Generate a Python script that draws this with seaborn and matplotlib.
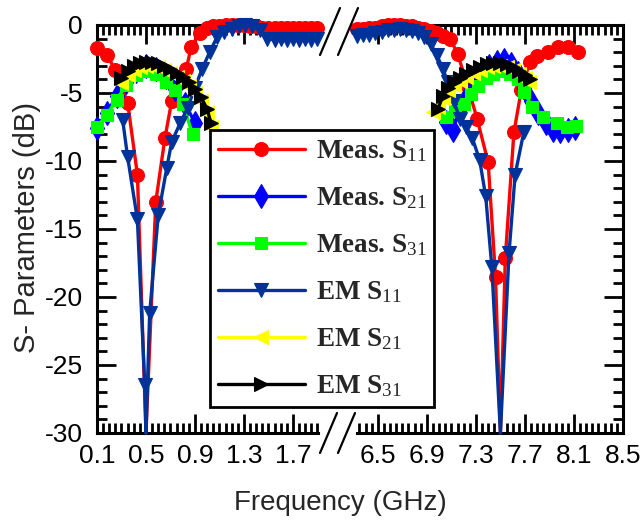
import numpy as np
import pandas as pd
import matplotlib
matplotlib.use("Agg")
import matplotlib.pyplot as plt
from matplotlib.lines import Line2D
from matplotlib.ticker import MultipleLocator
import seaborn as sns

# ---------------- data (frequency in GHz, S-parameters in dB) ----------------
meas_s11_left_f = [0.10, 0.18, 0.25, 0.35, 0.43, 0.50, 0.58, 0.655, 0.71, 0.83, 0.87, 0.94, 1.00, 1.05,
                   1.10, 1.15, 1.20, 1.25, 1.30, 1.35, 1.40, 1.45, 1.50, 1.55, 1.60, 1.65, 1.70, 1.75,
                   1.80, 1.85, 1.90]
meas_s11_left_db = [-1.7, -2.2, -3.3, -5.7, -11.0, -30.0, -13.0, -8.3, -5.6, -3.2, -1.6, -0.6, -0.25, -0.1,
                    -0.05, 0.0, 0.0, 0.0, 0.0, -0.05, -0.1, -0.2, -0.2, -0.25, -0.2, -0.25, -0.2, -0.25,
                    -0.2, -0.25, -0.2]
meas_s11_right_f = [6.33, 6.38, 6.43, 6.48, 6.53, 6.58, 6.63, 6.68, 6.73, 6.78, 6.83, 6.88, 6.93, 6.98,
                    7.03, 7.09, 7.15, 7.23, 7.31, 7.40, 7.46, 7.50, 7.54, 7.61, 7.67, 7.74, 7.80, 7.89,
                    7.97, 8.05, 8.13]
meas_s11_right_db = [-0.3, -0.3, -0.25, -0.2, -0.1, 0.0, 0.0, 0.0, -0.05, -0.1, -0.2, -0.3, -0.45, -0.6,
                     -0.8, -1.0, -2.1, -4.4, -6.9, -10.1, -18.5, -30.0, -17.1, -7.9, -4.8, -2.7, -2.3, -2.0,
                     -1.6, -1.6, -2.0]

meas_s21_left_f = [0.10, 0.18, 0.26, 0.34, 0.42, 0.50, 0.58, 0.66, 0.74, 0.82, 0.90]
meas_s21_left_db = [-7.6, -6.5, -5.2, -4.2, -3.4, -3.0, -3.2, -3.8, -4.7, -5.8, -7.2]
meas_s21_right_f = [7.06, 7.11, 7.17, 7.23, 7.29, 7.35, 7.41, 7.47, 7.53, 7.59, 7.64, 7.69, 7.75, 7.81,
                    7.87, 7.93, 7.99, 8.05, 8.11]
meas_s21_right_db = [-7.1, -7.7, -6.2, -5.2, -4.3, -3.6, -3.0, -2.7, -2.6, -2.9, -3.5, -4.6, -5.6, -6.5,
                     -7.2, -7.7, -7.8, -7.7, -7.6]

meas_s31_left_f = [0.10, 0.18, 0.26, 0.34, 0.42, 0.50, 0.58, 0.66, 0.74, 0.80, 0.88]
meas_s31_left_db = [-7.5, -6.6, -5.5, -4.4, -3.7, -3.4, -3.6, -4.2, -4.8, -5.8, -8.0]
meas_s31_right_f = [7.06, 7.13, 7.20, 7.26, 7.32, 7.38, 7.44, 7.51, 7.58, 7.64, 7.69, 7.76, 7.85, 7.96,
                    8.04, 8.12]
meas_s31_right_db = [-6.8, -6.3, -5.8, -5.1, -4.5, -3.9, -3.6, -3.4, -3.6, -4.0, -4.9, -6.0, -6.8, -7.2,
                     -7.5, -7.4]

em_s11_left_f = [0.31, 0.35, 0.43, 0.49, 0.50, 0.53, 0.60, 0.67, 0.71, 0.78, 0.84, 0.90, 0.96, 1.02,
                 1.08, 1.14, 1.20, 1.26, 1.31, 1.37, 1.43, 1.49, 1.55, 1.60, 1.65, 1.70, 1.75, 1.80,
                 1.85, 1.90]
em_s11_left_db = [-7.0, -9.7, -14.3, -26.5, -30.0, -21.2, -14.0, -10.5, -8.6, -7.2, -6.1, -4.6, -3.2, -2.0,
                  -0.9, -0.5, -0.3, -0.1, 0.0, -0.1, -0.4, -1.0, -1.1, -1.0, -1.1, -1.0, -1.1, -1.0,
                  -1.1, -1.0]
em_s11_right_f = [6.33, 6.38, 6.43, 6.48, 6.53, 6.58, 6.63, 6.68, 6.73, 6.78, 6.83, 6.88, 6.93, 6.98,
                  7.03, 7.07, 7.12, 7.17, 7.22, 7.27, 7.33, 7.38, 7.43, 7.50, 7.57, 7.62, 7.69]
em_s11_right_db = [-0.8, -0.75, -0.7, -0.6, -0.5, -0.4, -0.35, -0.3, -0.35, -0.45, -0.6, -0.9, -1.4, -2.2,
                   -3.2, -4.2, -5.6, -6.9, -7.5, -8.3, -9.9, -12.6, -17.8, -30.0, -16.8, -11.0, -7.9]

em_s21_left_f = [0.30, 0.35, 0.40, 0.45, 0.50, 0.55, 0.60, 0.65, 0.70, 0.75, 0.80, 0.85, 0.90, 0.95,
                 1.00, 1.03]
em_s21_left_db = [-4.3, -3.7, -3.3, -3.1, -3.0, -3.0, -3.1, -3.3, -3.5, -3.8, -4.1, -4.5, -5.0, -5.6,
                  -6.5, -7.5]
em_s21_right_f = [6.95, 6.99, 7.03, 7.07, 7.12, 7.17, 7.22, 7.28, 7.33, 7.39, 7.44, 7.50, 7.55, 7.60,
                  7.65, 7.70, 7.73]
em_s21_right_db = [-6.4, -6.0, -5.4, -4.8, -4.4, -4.1, -3.8, -3.5, -3.3, -3.1, -3.0, -3.0, -3.1, -3.3,
                   -3.6, -3.9, -4.2]

em_s31_left_f = [0.30, 0.35, 0.40, 0.45, 0.50, 0.55, 0.60, 0.65, 0.70, 0.75, 0.80, 0.85, 0.90, 0.95,
                 1.00, 1.03]
em_s31_left_db = [-3.9, -3.4, -3.0, -2.8, -2.7, -2.7, -2.8, -3.0, -3.2, -3.5, -3.8, -4.2, -4.7, -5.3,
                  -6.2, -7.2]
em_s31_right_f = [6.99, 7.03, 7.07, 7.12, 7.17, 7.22, 7.28, 7.33, 7.39, 7.44, 7.50, 7.55, 7.60, 7.65,
                  7.70, 7.74]
em_s31_right_db = [-6.2, -5.2, -4.6, -4.2, -3.9, -3.6, -3.3, -3.1, -2.9, -2.8, -2.8, -2.9, -3.1, -3.4,
                   -3.7, -4.0]

series_labels = ["Meas. S$_{11}$", "Meas. S$_{21}$", "Meas. S$_{31}$",
                 "EM S$_{11}$", "EM S$_{21}$", "EM S$_{31}$"]
left_x_ticks = [0.1, 0.5, 0.9, 1.3, 1.7]
right_x_ticks = [6.5, 6.9, 7.3, 7.7, 8.1, 8.5]
y_ticks = [-30, -25, -20, -15, -10, -5, 0]

# ---------------- styling ----------------
sns.set_style("ticks")
plt.rcParams['font.family'] = ['Liberation Sans', 'DejaVu Sans']
plt.rcParams['axes.unicode_minus'] = False
plt.rcParams['mathtext.fontset'] = 'custom'
plt.rcParams['mathtext.rm'] = 'Liberation Serif'
plt.rcParams['mathtext.it'] = 'Liberation Serif:italic'
plt.rcParams['mathtext.bf'] = 'Liberation Serif:bold'

W, H = 644, 521
fig = plt.figure(figsize=(W / 100, H / 100), dpi=100)


def rect(x0, y0, x1, y1):
    return [x0 / W, 1 - y1 / H, (x1 - x0) / W, (y1 - y0) / H]


axL = fig.add_axes(rect(97, 25, 318, 433))
axR = fig.add_axes(rect(357, 25, 623, 433))

styles = [
    dict(color="#FF0000", marker="o", markersize=10),
    dict(color="#0000FF", marker="d", markersize=12),
    dict(color="#00FF00", marker="s", markersize=8.5),
    dict(color="#003399", marker="v", markersize=10.5),
    dict(color="#FFFF00", marker="<", markersize=10.5),
    dict(color="#000000", marker=">", markersize=10.5),
]
left_data = [(meas_s11_left_f, meas_s11_left_db), (meas_s21_left_f, meas_s21_left_db),
             (meas_s31_left_f, meas_s31_left_db), (em_s11_left_f, em_s11_left_db),
             (em_s21_left_f, em_s21_left_db), (em_s31_left_f, em_s31_left_db)]
right_data = [(meas_s11_right_f, meas_s11_right_db), (meas_s21_right_f, meas_s21_right_db),
              (meas_s31_right_f, meas_s31_right_db), (em_s11_right_f, em_s11_right_db),
              (em_s21_right_f, em_s21_right_db), (em_s31_right_f, em_s31_right_db)]
draw_order = [0, 1, 2, 4, 5, 3]

handles = [None] * 6
for i in draw_order:
    st = styles[i]
    for ax, (fx, fy) in ((axL, left_data[i]), (axR, right_data[i])):
        df = pd.DataFrame({"f": fx, "db": fy})
        # the resonance minimum sits on the axis floor: no marker drawn there
        shown = [k for k, v in enumerate(fy) if v > -30]
        sns.lineplot(data=df, x="f", y="db", ax=ax, sort=False, estimator=None,
                     color=st["color"], marker=st["marker"], markersize=st["markersize"],
                     markeredgecolor=st["color"], markeredgewidth=0.8, linewidth=2.4,
                     markevery=shown, clip_on=False, zorder=3 + i * 0.1, legend=False)
        if ax is axL:
            handles[i] = ax.lines[-1]

for ax in (axL, axR):
    ax.set_ylim(-30, 0)
    ax.set_yticks(y_ticks)
    ax.yaxis.set_minor_locator(MultipleLocator(1))
    ax.xaxis.set_minor_locator(MultipleLocator(0.05))
    ax.set_xlabel("")
    ax.set_ylabel("")
    for sp in ax.spines.values():
        sp.set_linewidth(2.2)
        sp.set_color("black")
    ax.tick_params(which="both", direction="in", top=True, bottom=True, width=2, colors="black")
    ax.tick_params(which="major", length=14, labelsize=19)
    ax.tick_params(which="minor", length=7)
    ax.tick_params(axis="x", pad=8)
    ax.tick_params(axis="y", pad=10)

axL.set_xlim(0.1, 1.905)
axL.set_xticks(left_x_ticks)
axL.set_xticklabels([f"{v:.1f}" for v in left_x_ticks])
axL.set_yticklabels([str(v) for v in y_ticks])
axL.spines["right"].set_visible(False)
axL.tick_params(which="both", left=True, right=False)

axR.set_xlim(6.33, 8.5)
axR.set_xticks(right_x_ticks)
axR.set_xticklabels([f"{v:.1f}" for v in right_x_ticks])
axR.spines["left"].set_visible(False)
axR.tick_params(which="both", left=False, right=True, labelleft=False, labelright=False)

fig.text(27 / W, 1 - 228 / H, "S- Parameters (dB)", rotation=90, ha="center", va="center", fontsize=21)
fig.text(340 / W, 1 - 503 / H, "Frequency (GHz)", ha="center", va="center", fontsize=20)

# axis-break marks
for (x0, y0, x1, y1) in [(320, 55, 340, 8), (338, 55, 358, 8), (320, 453, 337, 413), (338, 453, 355, 413)]:
    fig.add_artist(Line2D([x0 / W, x1 / W], [1 - y0 / H, 1 - y1 / H], transform=fig.transFigure,
                          color="black", linewidth=1.6))

leg = fig.legend(handles, series_labels, loc="upper left", bbox_to_anchor=(210 / W, 1 - 130 / H),
                 bbox_transform=fig.transFigure, frameon=True, fancybox=False, edgecolor="black",
                 framealpha=1, borderaxespad=0,
                 prop={"family": "Liberation Serif", "weight": "bold", "size": 19.5},
                 handlelength=3.2, handletextpad=0.4, labelspacing=0.78, borderpad=0.3)
leg.get_frame().set_linewidth(2)

fig.savefig("out.png", dpi=100)
